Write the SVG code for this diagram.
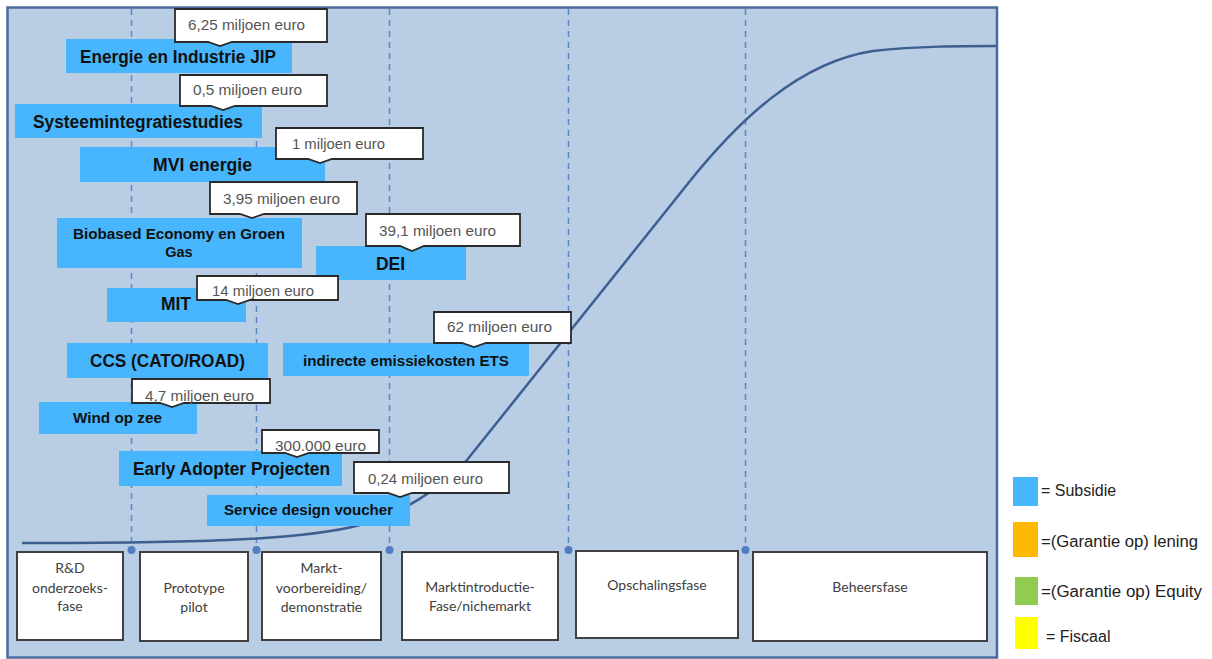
<svg xmlns="http://www.w3.org/2000/svg" width="1212" height="659" viewBox="0 0 1212 659">
<style>
.panel{fill:#b9cde5;stroke:#4a6b9b;stroke-width:2.5}
.dash{stroke:#5a87c5;stroke-width:1.5;stroke-dasharray:6 5;fill:none}
.dot{fill:#4f7fc0}
.curve{fill:none;stroke:#3b5f8e;stroke-width:2.5}
.phase rect{fill:#fff;stroke:#404040;stroke-width:2}
.phase text{font-family:Lato,"Liberation Sans",sans-serif;font-size:14px;fill:#404040;text-anchor:middle}
.lbl rect{fill:#47b6fc}
.lbl text{font-family:"Liberation Sans",Arial,sans-serif;font-weight:bold;fill:#111;text-anchor:middle}
.big{font-size:17.5px}
.mid{font-size:14.5px}
.call path{fill:#fff;stroke:#2a2a2a;stroke-width:1.8}
.call text{font-family:"Liberation Sans",Arial,sans-serif;font-size:14.5px;fill:#555}
.leg text{font-family:"Liberation Sans",Arial,sans-serif;font-size:16px;fill:#222}
</style>
<rect class="panel" x="7.5" y="7.5" width="989.5" height="650"/>
<g id="connectors">
<path class="dash" d="M131.5,9 V548 M256.5,9 V548 M389.5,9 V548 M568.5,9 V548 M745.5,9 V548"/>
<path class="curve" d="M22,543 C180,543 300,541 360,525 C400,514 440,490 467,460 L690,181 C740,119 800,62 873,51 C920,46 960,46 996,46"/>
<circle class="dot" cx="131.5" cy="550" r="4"/>
<circle class="dot" cx="256.5" cy="550" r="4"/>
<circle class="dot" cx="389.5" cy="550" r="4"/>
<circle class="dot" cx="568.5" cy="550" r="4"/>
<circle class="dot" cx="745.5" cy="550" r="4"/>
</g>
<g id="phase-rd" class="phase"><rect x="17" y="552" width="106" height="88"/><text x="70" y="573">R&amp;D</text><text x="70" y="593">onderzoeks-</text><text x="70" y="611">fase</text></g>
<g id="phase-prototype" class="phase"><rect x="140" y="552" width="108" height="89"/><text x="194" y="593">Prototype</text><text x="194" y="612">pilot</text></g>
<g id="phase-markt" class="phase"><rect x="262" y="552" width="119" height="88"/><text x="321.5" y="573">Markt-</text><text x="321.5" y="593">voorbereiding/</text><text x="321.5" y="612">demonstratie</text></g>
<g id="phase-intro" class="phase"><rect x="402" y="552" width="156" height="88"/><text x="480" y="592">Marktintroductie-</text><text x="480" y="611">Fase/nichemarkt</text></g>
<g id="phase-opschaling" class="phase"><rect x="576" y="551" width="162" height="87"/><text x="657" y="590">Opschalingsfase</text></g>
<g id="phase-beheer" class="phase"><rect x="753" y="552" width="234" height="89"/><text x="870" y="592">Beheersfase</text></g>

<g id="energie" class="lbl"><rect x="66" y="39" width="226" height="34"/><text class="big" x="178" y="62.5" textLength="196" lengthAdjust="spacingAndGlyphs">Energie en Industrie JIP</text></g>
<g id="systeem" class="lbl"><rect x="15" y="104" width="247" height="34"/><text class="big" x="138" y="128" textLength="210" lengthAdjust="spacingAndGlyphs">Systeemintegratiestudies</text></g>
<g id="mvi" class="lbl"><rect x="80" y="147" width="245" height="35"/><text class="big" x="202.5" y="171" textLength="99" lengthAdjust="spacingAndGlyphs">MVI energie</text></g>
<g id="biobased" class="lbl"><rect x="57" y="218" width="245" height="50"/><text class="mid" x="179" y="239" textLength="212" lengthAdjust="spacingAndGlyphs">Biobased Economy en Groen</text><text class="mid" x="179" y="257">Gas</text></g>
<g id="dei" class="lbl"><rect x="316" y="246" width="150" height="34"/><text class="big" x="390.5" y="270">DEI</text></g>
<g id="mit" class="lbl"><rect x="107" y="288" width="139" height="34"/><text class="big" x="176" y="310">MIT</text></g>
<g id="ccs" class="lbl"><rect x="67" y="343" width="201" height="35"/><text class="big" x="167.5" y="367" textLength="155" lengthAdjust="spacingAndGlyphs">CCS (CATO/ROAD)</text></g>
<g id="ets" class="lbl"><rect x="283" y="343" width="246" height="33"/><text class="mid" x="406" y="366" textLength="206" lengthAdjust="spacingAndGlyphs">indirecte emissiekosten ETS</text></g>
<g id="wind" class="lbl"><rect x="39" y="402" width="158" height="32"/><text class="mid" x="117.5" y="423" textLength="89" lengthAdjust="spacingAndGlyphs">Wind op zee</text></g>
<g id="early" class="lbl"><rect x="119" y="451" width="223" height="35"/><text class="big" x="231.5" y="475" textLength="197" lengthAdjust="spacingAndGlyphs">Early Adopter Projecten</text></g>
<g id="service" class="lbl"><rect x="207" y="495" width="203" height="31"/><text class="mid" x="308.5" y="515" textLength="169" lengthAdjust="spacingAndGlyphs">Service design voucher</text></g>

<g id="call-energie" class="call"><path d="M175,9 H327 V42 H232 L220,46 L208,42 H175 Z"/><text x="188" y="30" textLength="117" lengthAdjust="spacingAndGlyphs">6,25 miljoen euro</text></g>
<g id="call-systeem" class="call"><path d="M180,75 H327 V106 H235 L223,110 L211,106 H180 Z"/><text x="193" y="95" textLength="109" lengthAdjust="spacingAndGlyphs">0,5 miljoen euro</text></g>
<g id="call-mvi" class="call"><path d="M276,128 H423 V159 H332 L320,163 L308,159 H276 Z"/><text x="292" y="149" textLength="93" lengthAdjust="spacingAndGlyphs">1 miljoen euro</text></g>
<g id="call-biobased" class="call"><path d="M210,182 H357 V214 H264 L252,218 L240,214 H210 Z"/><text x="223" y="204" textLength="117" lengthAdjust="spacingAndGlyphs">3,95 miljoen euro</text></g>
<g id="call-dei" class="call"><path d="M366,214 H520 V246 H424 L412,251 L400,246 H366 Z"/><text x="379" y="236" textLength="117" lengthAdjust="spacingAndGlyphs">39,1 miljoen euro</text></g>
<g id="call-mit" class="call"><path d="M197,276 H338 V300 H250 L238,304 L226,300 H197 Z"/><text x="212" y="296" textLength="102" lengthAdjust="spacingAndGlyphs">14 miljoen euro</text></g>
<g id="call-ets" class="call"><path d="M434,312 H571 V343 H486 L474,347 L462,343 H434 Z"/><text x="447" y="332" textLength="105" lengthAdjust="spacingAndGlyphs">62 miljoen euro</text></g>
<g id="call-wind" class="call"><path d="M132,379 H270 V403 H184 L172,407 L160,403 H132 Z"/><text x="145" y="401" textLength="109" lengthAdjust="spacingAndGlyphs">4,7 miljoen euro</text></g>
<g id="call-early" class="call"><path d="M262,430 H379 V453 H309 L297,457 L285,453 H262 Z"/><text x="275" y="451" textLength="91" lengthAdjust="spacingAndGlyphs">300.000 euro</text></g>
<g id="call-service" class="call"><path d="M354,462 H509 V493 H412 L400,497 L388,493 H354 Z"/><text x="368" y="484" textLength="115" lengthAdjust="spacingAndGlyphs">0,24 miljoen euro</text></g>

<g id="legend-subsidie" class="leg"><rect x="1013" y="477" width="25" height="29" fill="#47b6fc"/><text x="1041" y="496">= Subsidie</text></g>
<g id="legend-lening" class="leg"><rect x="1013" y="522" width="25" height="35" fill="#ffb900"/><text x="1041" y="547" textLength="157" lengthAdjust="spacingAndGlyphs">=(Garantie op) lening</text></g>
<g id="legend-equity" class="leg"><rect x="1015" y="577" width="23" height="28" fill="#8fcc50"/><text x="1041" y="597" textLength="161" lengthAdjust="spacingAndGlyphs">=(Garantie op) Equity</text></g>
<g id="legend-fiscaal" class="leg"><rect x="1015" y="617" width="23" height="32" fill="#ffff00"/><text x="1046" y="642">= Fiscaal</text></g>
</svg>
